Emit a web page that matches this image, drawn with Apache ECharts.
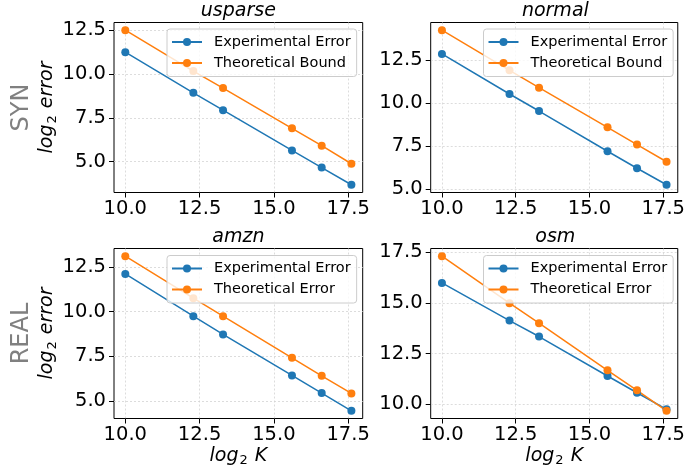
<!DOCTYPE html>
<html>
<head>
<meta charset="utf-8">
<script src="https://cdn.jsdelivr.net/npm/echarts@6/dist/echarts.min.js"></script>
<style>
html,body{margin:0;padding:0;background:#fff;}
#chart{width:688px;height:473px;}
</style>
</head>
<body>
<div id="chart"></div>
<script>
// ---- data ----
const xLog2K = [10.0, 12.29, 13.29, 15.61, 16.61, 17.61];
const usparseExperimental = [11.25, 8.93, 7.94, 5.64, 4.66, 3.68];
const usparseBound        = [12.50, 10.17, 9.20, 6.90, 5.91, 4.88];
const normalExperimental  = [12.87, 10.54, 9.55, 7.21, 6.22, 5.26];
const normalBound         = [14.25, 11.92, 10.91, 8.60, 7.60, 6.60];
const amznExperimental    = [12.11, 9.74, 8.72, 6.42, 5.43, 4.44];
const amznTheoretical     = [13.10, 10.75, 9.74, 7.41, 6.40, 5.41];
const osmExperimental     = [15.99, 14.13, 13.34, 11.39, 10.56, 9.74];
const osmTheoretical      = [17.31, 14.99, 14.00, 11.67, 10.68, 9.67];
const panelTitles = ['usparse', 'normal', 'amzn', 'osm'];
const rowLabels = ['SYN', 'REAL'];
const xTicks = [10, 12.5, 15, 17.5];
const yTicksSyn = [5, 7.5, 10, 12.5];
const yTicksAmzn = [5, 7.5, 10, 12.5];
const yTicksOsm = [10, 12.5, 15, 17.5];
const synNames = ['Experimental Error', 'Theoretical Bound'];
const realNames = ['Experimental Error', 'Theoretical Error'];

// ---- layout / styles ----
const FONT = 'DejaVu Sans';
const BLUE = '#1f77b4', ORANGE = '#ff7f0e';
const grids = [
  {left: 114, top: 22.5, width: 248.7, height: 170},
  {left: 430.7, top: 22.5, width: 249.3, height: 170},
  {left: 114, top: 248.5, width: 248.7, height: 170},
  {left: 430.7, top: 248.5, width: 249.3, height: 170}
];
const panels = [
  {exp: usparseExperimental, th: usparseBound, names: synNames, yt: yTicksSyn},
  {exp: normalExperimental, th: normalBound, names: synNames, yt: yTicksSyn},
  {exp: amznExperimental, th: amznTheoretical, names: realNames, yt: yTicksAmzn},
  {exp: osmExperimental, th: osmTheoretical, names: realNames, yt: yTicksOsm}
];

function padRange(arrs) {
  const all = [].concat(...arrs);
  const lo = Math.min(...all), hi = Math.max(...all);
  const m = (hi - lo) * 0.05;
  return [lo - m, hi + m];
}
const xr = padRange([xLog2K]);
const fmt = v => Number(v).toFixed(1);
const rich = {
  i: {fontStyle: 'italic', fontSize: 19, fontFamily: FONT, color: '#000'},
  s: {fontSize: 13, fontFamily: FONT, color: '#000', padding: [10, 1, 0, 1]}
};
const gridLine = {show: true, lineStyle: {color: '#d4d4d4', width: 0.8, type: [2, 2]}};

const xAxis = [], yAxis = [], series = [], title = [], legend = [];
panels.forEach((p, i) => {
  const g = grids[i];
  const yr = padRange([p.exp, p.th]);
  xAxis.push({
    type: 'value', gridIndex: i, min: xr[0], max: xr[1],
    axisLine: {show: false},
    axisTick: {show: true, length: 5, lineStyle: {color: '#000'}, customValues: xTicks},
    axisLabel: {customValues: xTicks, formatter: fmt, fontSize: 19.5, fontFamily: FONT, color: '#000', margin: 6},
    splitLine: gridLine,
    name: i >= 2 ? '{i|log}{s|2}{i| K}' : '',
    nameLocation: 'middle', nameGap: 26,
    nameTextStyle: {rich: rich}
  });
  yAxis.push({
    type: 'value', gridIndex: i, min: yr[0], max: yr[1],
    axisLine: {show: false},
    axisTick: {show: true, length: 5, lineStyle: {color: '#000'}, customValues: p.yt},
    axisLabel: {customValues: p.yt, formatter: fmt, fontSize: 19.5, fontFamily: FONT, color: '#000', margin: 8},
    splitLine: gridLine,
    name: i % 2 === 0 ? '{i|log}{s|2}{i| error}' : '',
    nameLocation: 'middle', nameGap: 52,
    nameTextStyle: {rich: rich}
  });
  [[p.exp, BLUE, p.names[0]], [p.th, ORANGE, p.names[1]]].forEach(([vals, col, nm]) => {
    series.push({
      type: 'line', name: nm, xAxisIndex: i, yAxisIndex: i,
      data: xLog2K.map((x, k) => [x, vals[k]]),
      symbol: 'circle', symbolSize: 8, showSymbol: true,
      itemStyle: {color: col}, lineStyle: {color: col, width: 1.5},
      emphasis: {disabled: true}, animation: false
    });
  });
  title.push({
    text: panelTitles[i], left: g.left + g.width / 2, textAlign: 'center',
    top: i < 2 ? 2 : 227.5, padding: 0,
    textStyle: {fontFamily: FONT, fontStyle: 'italic', fontWeight: 'normal', fontSize: 19, color: '#000'}
  });
  legend.push({
    data: p.names, orient: 'vertical',
    left: i % 2 === 0 ? 167 : 483.5, top: i < 2 ? 29 : 255.5,
    padding: [5.5, 6, 6, 4], itemGap: 6, itemWidth: 30, itemHeight: 10,
    backgroundColor: 'rgba(255,255,255,0.8)', borderColor: '#cccccc', borderWidth: 1, borderRadius: 3,
    textStyle: {fontFamily: FONT, fontSize: 14.5, color: '#000', padding: [0, 0, 0, 7]},
    selectedMode: false
  });
});

const chart = echarts.init(document.getElementById('chart'), null, {renderer: 'canvas'});
chart.setOption({
  animation: false,
  backgroundColor: '#fff',
  grid: grids.map(g => Object.assign({show: true, borderColor: '#000', borderWidth: 1, backgroundColor: 'transparent'}, g)),
  title: title,
  legend: legend,
  xAxis: xAxis,
  yAxis: yAxis,
  series: series,
  graphic: rowLabels.map((t, r) => ({
    type: 'text', x: 22, y: grids[r * 2].top + grids[r * 2].height / 2, rotation: Math.PI / 2,
    style: {text: t, fontFamily: FONT, fontSize: 24, fill: '#808080', align: 'center', verticalAlign: 'middle'}
  }))
});
</script>
</body>
</html>
